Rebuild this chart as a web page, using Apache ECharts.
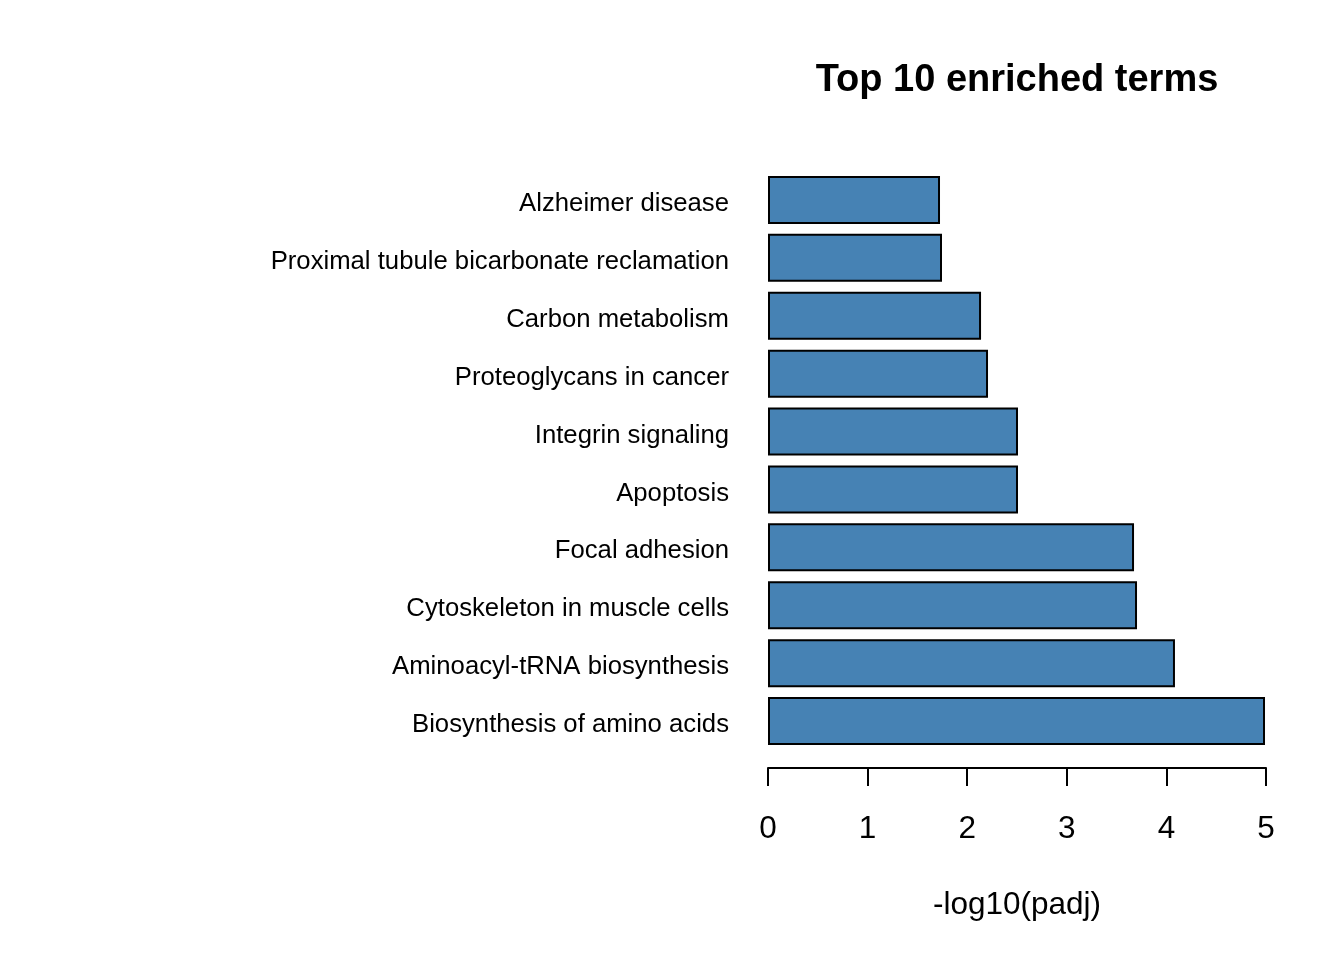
<!DOCTYPE html>
<html>
<head>
<meta charset="utf-8">
<script src="https://cdn.jsdelivr.net/npm/echarts@6/dist/echarts.min.js"></script>
<style>
html,body{margin:0;padding:0;background:#fff;}
#chart{width:1344px;height:960px;}
</style>
</head>
<body>
<div id="chart"></div>
<script>
const categories = [
  "Alzheimer disease",
  "Proximal tubule bicarbonate reclamation",
  "Carbon metabolism",
  "Proteoglycans in cancer",
  "Integrin signaling",
  "Apoptosis",
  "Focal adhesion",
  "Cytoskeleton in muscle cells",
  "Aminoacyl-tRNA biosynthesis",
  "Biosynthesis of amino acids"
];
const values = [1.727, 1.747, 2.139, 2.209, 2.510, 2.510, 3.675, 3.705, 4.086, 4.990];
const xTicks = [0, 1, 2, 3, 4, 5];
const titleText = "Top 10 enriched terms";
const xName = "-log10(padj)";

const FONT = "'Liberation Sans', Arial, sans-serif";
const chart = echarts.init(document.getElementById('chart'), null, {renderer: 'canvas'});
chart.setOption({
  backgroundColor: '#ffffff',
  animation: false,
  graphic: [{
    type: 'text',
    x: 1017,
    y: 81,
    style: {
      text: titleText,
      font: "bold 38px " + FONT,
      fill: '#000',
      textAlign: 'center',
      textVerticalAlign: 'middle'
    }
  }],
  grid: {left: 768, right: 78, top: 171, bottom: 210, containLabel: false},
  xAxis: {
    type: 'value',
    min: xTicks[0],
    max: xTicks[xTicks.length - 1],
    interval: 1,
    offset: 18,
    name: xName,
    nameLocation: 'middle',
    nameGap: 121,
    nameTextStyle: {fontFamily: FONT, fontSize: 31.5, color: '#000'},
    axisLine: {show: true, lineStyle: {color: '#000', width: 2}},
    axisTick: {show: true, length: 18, lineStyle: {color: '#000', width: 2}},
    axisLabel: {margin: 45, fontFamily: FONT, fontSize: 31.5, color: '#000'},
    splitLine: {show: false}
  },
  yAxis: {
    type: 'category',
    data: categories,
    inverse: true,
    axisLine: {show: false},
    axisTick: {show: false},
    axisLabel: {margin: 39, fontFamily: FONT, fontSize: 25.7, color: '#000', verticalAlign: 'top', lineHeight: 8},
    splitLine: {show: false}
  },
  series: [{
    type: 'bar',
    data: values,
    barWidth: 48,
    itemStyle: {color: '#4682B4', borderColor: '#000', borderWidth: 2}
  }]
});
</script>
</body>
</html>
